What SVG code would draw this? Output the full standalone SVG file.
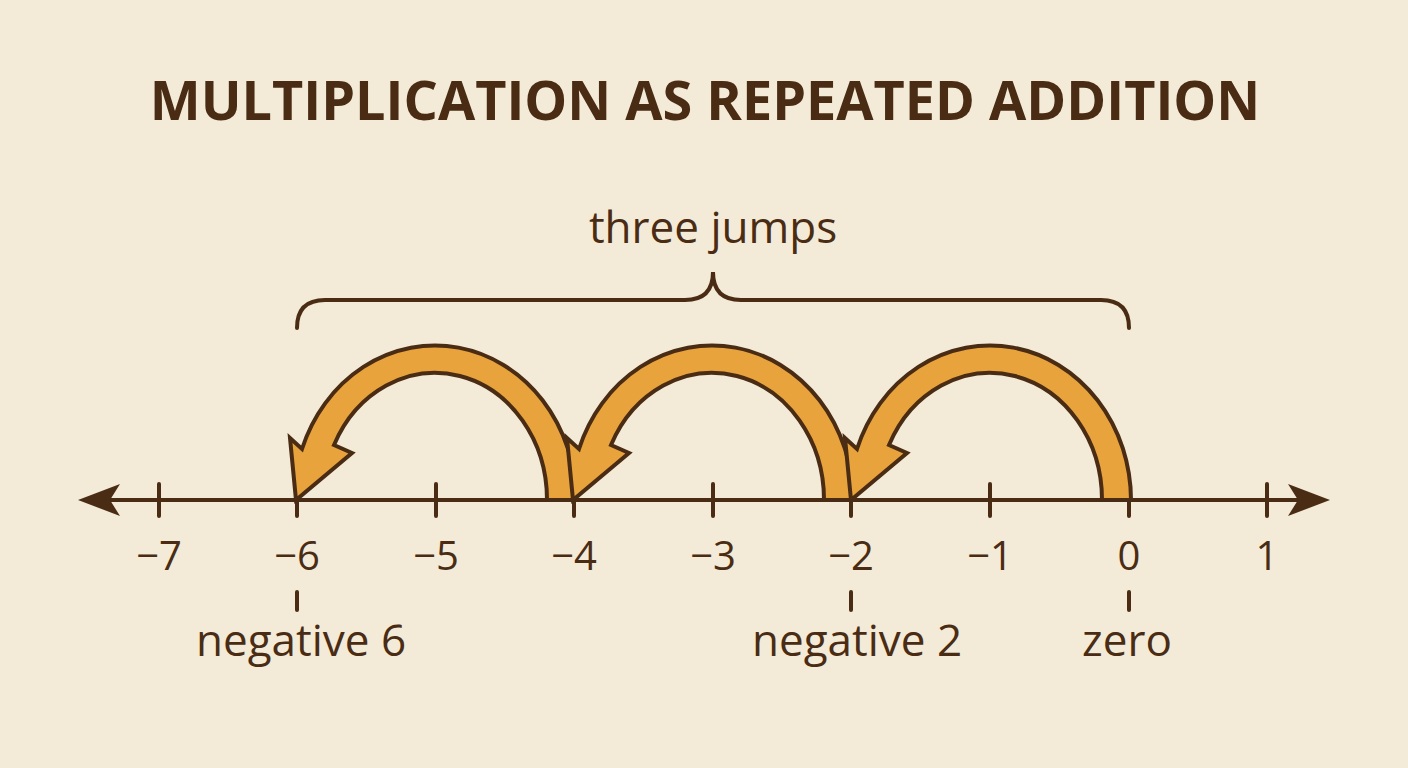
<svg xmlns="http://www.w3.org/2000/svg" width="1408" height="768" viewBox="0 0 1408 768">
<style>
text{font-family:"Open Sans","Noto Sans",sans-serif;fill:#4a2c14;text-anchor:middle}
.n{font-size:40px}
.l{font-size:44px}
.ln{stroke:#4a2c14;stroke-width:4;fill:none;stroke-linecap:round}
.j{fill:#e8a33c;stroke:#4a2c14;stroke-width:4;stroke-linejoin:miter}
</style>
<rect width="1408" height="768" fill="#f3ebd7"/>
<text x="705" y="120" style="font-size:54px;font-weight:bold">MULTIPLICATION AS REPEATED ADDITION</text>
<g id="axis">
<path class="ln" d="M110,500 H1300"/>
<path d="M78,500 L120,484 L110,500 L120,516 Z M1330,500 L1288,484 L1298,500 L1288,516 Z" fill="#4a2c14"/>
<path class="ln" d="M159,484V516M297,484V516M436,484V516M574,484V516M713,484V516M851,484V516M990,484V516M1129,484V516M1267,484V516"/>
</g>
<g id="ticklabels">
<text class="n" x="159" y="570">−7</text><text class="n" x="297" y="570">−6</text><text class="n" x="436" y="570">−5</text><text class="n" x="574" y="570">−4</text><text class="n" x="713" y="570">−3</text><text class="n" x="851" y="570">−2</text><text class="n" x="990" y="570">−1</text><text class="n" x="1129" y="570">0</text><text class="n" x="1267" y="570">1</text>
</g>
<g id="connectors">
<path class="ln" d="M297,328 Q297,300 325,300 L685,300 Q713,300 713,272 Q713,300 741,300 L1101,300 Q1129,300 1129,328"/>
<path class="ln" d="M297,592V610M851,592V610M1129,592V610"/>
</g>
<g id="jump3"><path class="j" d="M547,500 L576,500 A141 155 0 0 0 302,449 L290,438 L296,500 L352,453 L334,445 A112 127 0 0 1 547,500 Z"/></g>
<g id="jump2"><path class="j" d="M824,500 L853,500 A141 155 0 0 0 579,449 L567,438 L573,500 L629,453 L611,445 A112 127 0 0 1 824,500 Z"/></g>
<g id="jump1"><path class="j" d="M1102,500 L1131,500 A141 155 0 0 0 857,449 L845,438 L851,500 L907,453 L889,445 A112 127 0 0 1 1102,500 Z"/></g>
<text x="713" y="243" class="l">three jumps</text>
<text x="301" y="656" class="l">negative 6</text>
<text x="857" y="656" class="l">negative 2</text>
<text x="1127" y="656" class="l">zero</text>
</svg>
